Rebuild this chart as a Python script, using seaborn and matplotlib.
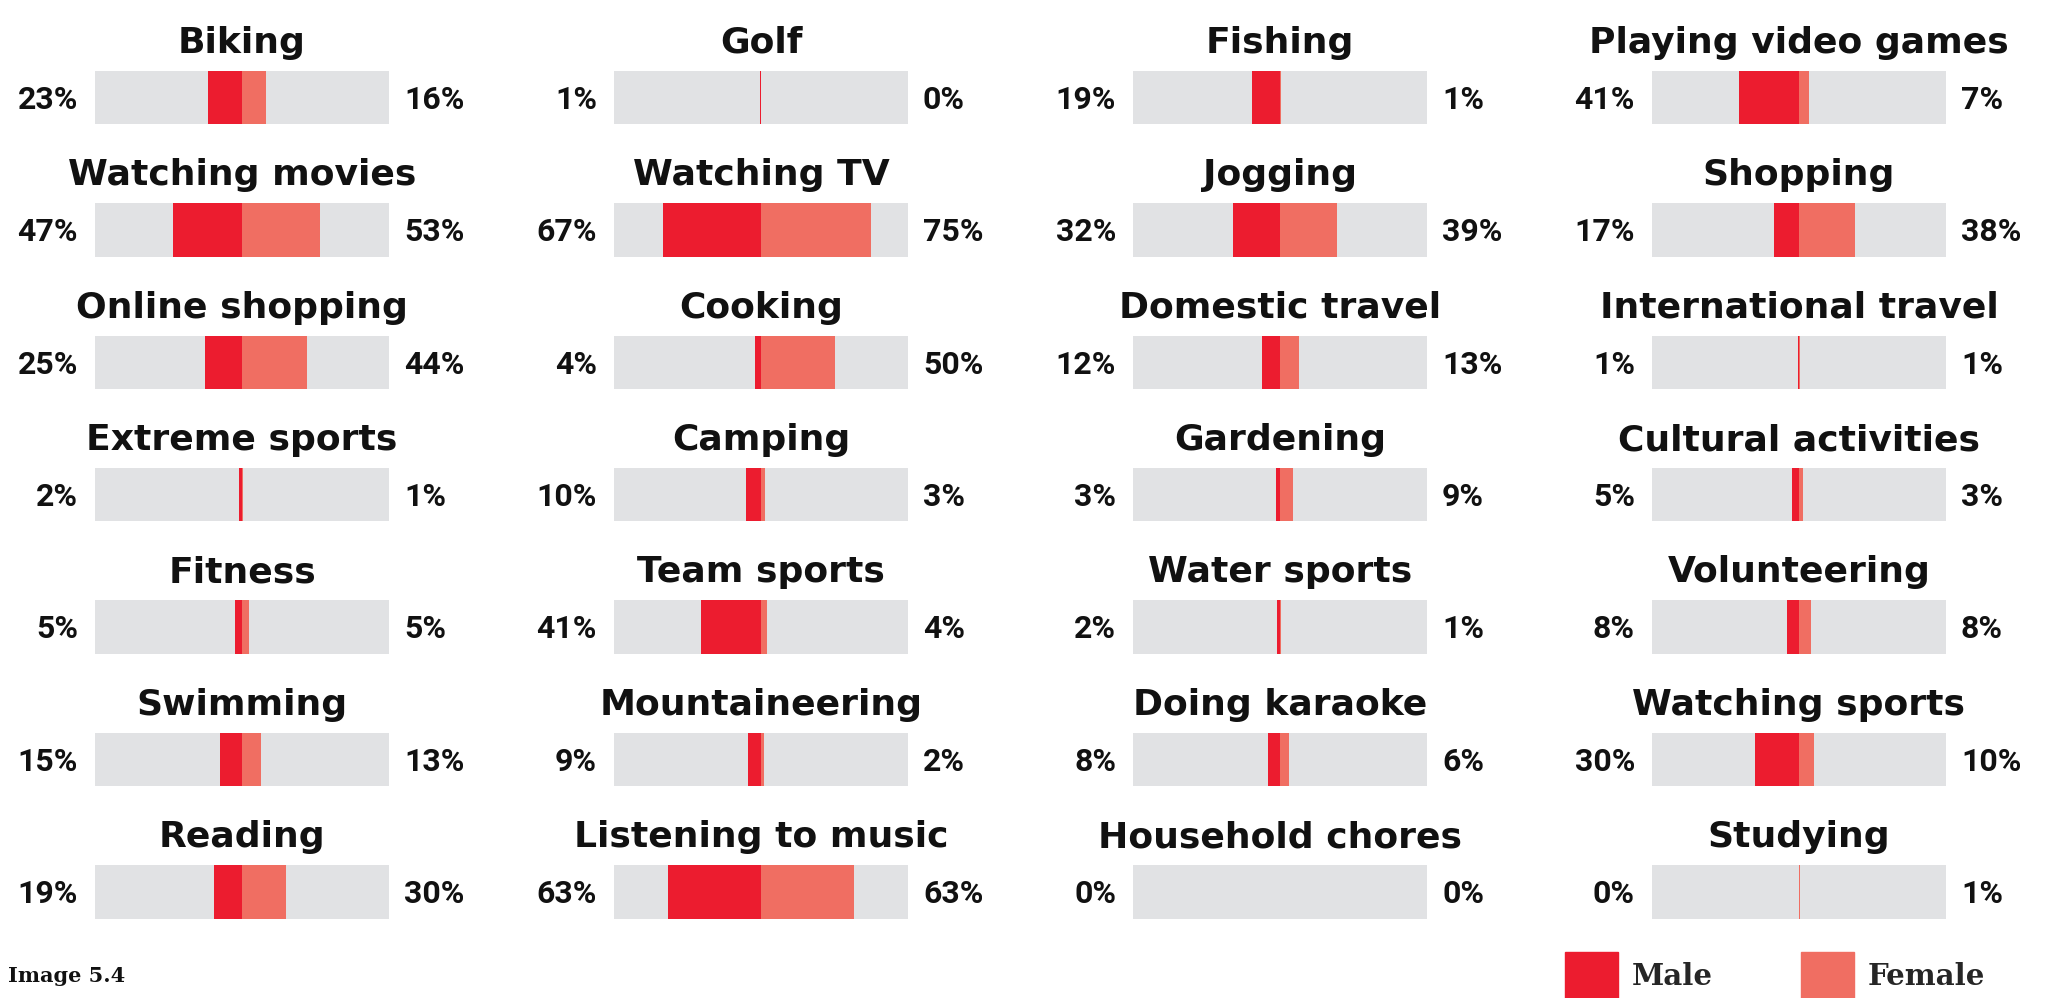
import pandas as pd
import matplotlib
matplotlib.use("Agg")
import matplotlib.pyplot as plt
import seaborn as sns
from matplotlib.patches import Patch

sns.set_style("white")
plt.rcParams['font.family'] = ['DejaVu Sans']

# data, one list per column of the grid (top to bottom)
col1_names = ['Biking', 'Watching movies', 'Online shopping', 'Extreme sports', 'Fitness', 'Swimming', 'Reading']
col1_male = [23, 47, 25, 2, 5, 15, 19]
col1_female = [16, 53, 44, 1, 5, 13, 30]

col2_names = ['Golf', 'Watching TV', 'Cooking', 'Camping', 'Team sports', 'Mountaineering', 'Listening to music']
col2_male = [1, 67, 4, 10, 41, 9, 63]
col2_female = [0, 75, 50, 3, 4, 2, 63]

col3_names = ['Fishing', 'Jogging', 'Domestic travel', 'Gardening', 'Water sports', 'Doing karaoke', 'Household chores']
col3_male = [19, 32, 12, 3, 2, 8, 0]
col3_female = [1, 39, 13, 9, 1, 6, 0]

col4_names = ['Playing video games', 'Shopping', 'International travel', 'Cultural activities', 'Volunteering',
              'Watching sports', 'Studying']
col4_male = [41, 17, 1, 5, 8, 30, 0]
col4_female = [7, 38, 1, 3, 8, 10, 1]

columns = [
    (col1_names, col1_male, col1_female),
    (col2_names, col2_male, col2_female),
    (col3_names, col3_male, col3_female),
    (col4_names, col4_male, col4_female),
]

MALE = '#EC1C2F'
FEMALE = '#F06E62'
GREY = '#E1E2E4'

W, H = 2045, 998
fig = plt.figure(figsize=(W / 100, H / 100), dpi=100)

col_left = [95, 614, 1133, 1652]
bar_w = 294
ax_top, ax_bot = 31.5, 958
px_per_unit = bar_w / 200.0

for left, (names, male, female) in zip(col_left, columns):
    ax = fig.add_axes([left / W, 1 - ax_bot / H, bar_w / W, (ax_bot - ax_top) / H])
    df = pd.DataFrame({'activity': names, 'male': male, 'female': female})
    df['male_neg'] = -df['male']
    df['full_left'] = -100
    df['full_right'] = 100

    common = dict(y='activity', order=names, orient='h', width=0.404, linewidth=0, ax=ax)
    sns.barplot(data=df, x='full_left', color=GREY, saturation=1, **common)
    sns.barplot(data=df, x='full_right', color=GREY, saturation=1, **common)
    sns.barplot(data=df, x='male_neg', color=MALE, saturation=1, **common)
    sns.barplot(data=df, x='female', color=FEMALE, saturation=1, **common)

    ax.set_xlim(-100, 100)
    ax.set_ylim(6.5, -0.5)
    ax.axis('off')

    for i, row in df.iterrows():
        ax.text(0, i - 0.338, row['activity'], ha='center', va='baseline',
                fontsize=26, fontweight='bold', color='#111111')
        ax.text(-100 - 17 / px_per_unit, i + 0.085, f"{row['male']}%", ha='right', va='baseline',
                fontsize=23, fontweight='bold', family='Roboto', color='#111111')
        ax.text(100 + 15 / px_per_unit, i + 0.085, f"{row['female']}%", ha='left', va='baseline',
                fontsize=23, fontweight='bold', family='Roboto', color='#111111')

fig.text(8 / W, 1 - 982 / H, 'Image 5.4', fontsize=15, fontweight='bold',
         family='DejaVu Serif', ha='left', va='baseline', color='#111111')

handles = [Patch(color=MALE, label='Male'), Patch(color=FEMALE, label='Female')]
fig.legend(handles=handles, loc='upper left', bbox_to_anchor=(1565 / W, 1 - 952 / H),
           ncol=2, frameon=False, borderpad=0, borderaxespad=0,
           handlelength=1.82, handleheight=2.1, handletextpad=0.48, columnspacing=3.0,
           prop={'family': 'DejaVu Serif', 'weight': 'bold', 'size': 21})

fig.savefig('out.png', dpi=100, facecolor='white')
